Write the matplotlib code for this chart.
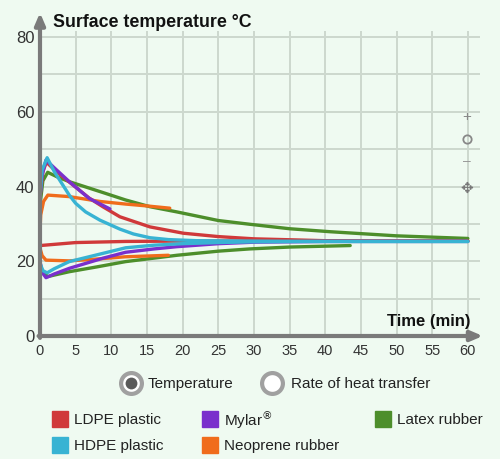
import matplotlib
matplotlib.use("Agg")
import matplotlib.pyplot as plt
from matplotlib.lines import Line2D

plt.rcParams['font.family'] = ['Liberation Sans', 'DejaVu Sans']

# ---- data ----
ldpe_hot_t = [0, 0.4, 0.9, 2, 4.1, 6.9, 8.8, 11.2, 15.4, 20.1, 25, 30, 40, 50, 60]
ldpe_hot_T = [37, 44, 46.5, 44.5, 41.2, 36.9, 34.6, 31.9, 29.2, 27.5, 26.6, 26.0, 25.5, 25.4, 25.4]
ldpe_cold_t = [0, 5, 12, 20, 30, 40, 50, 60]
ldpe_cold_T = [24.2, 25.0, 25.3, 25.4, 25.4, 25.4, 25.4, 25.4]

hdpe_hot_t = [0, 0.3, 1.0, 2, 3.2, 4.1, 5, 6.4, 8.4, 11.2, 13.1, 15.4, 18, 22, 30, 40, 50, 60]
hdpe_hot_T = [37, 44.4, 47.7, 44, 40.4, 37.7, 35.5, 33.2, 31.0, 28.6, 27.3, 26.3, 25.8, 25.5, 25.4, 25.3, 25.3, 25.3]
hdpe_cold_t = [0, 0.4, 1.0, 2, 4.1, 8.8, 12, 16, 20, 25, 30, 40, 50, 60]
hdpe_cold_T = [19.5, 17.5, 16.9, 18, 19.9, 22.1, 23.6, 24.3, 24.7, 25.0, 25.2, 25.3, 25.3, 25.3]

mylar_hot_t = [0, 0.3, 0.84, 2, 4.1, 6.9, 9.8]
mylar_hot_T = [37, 43, 47.1, 45, 41.3, 36.8, 34.0]
mylar_cold_t = [0, 0.3, 0.84, 2, 4.1, 8.8, 12, 16, 19.2, 25, 30, 40, 50, 60]
mylar_cold_T = [20, 17, 15.6, 16.6, 18.1, 20.8, 22.4, 23.3, 23.9, 24.7, 25.1, 25.3, 25.3, 25.3]

latex_hot_t = [0, 0.4, 1.08, 2.5, 4.1, 8.8, 12, 15.4, 19.2, 25, 29.4, 35, 40.7, 50, 60]
latex_hot_T = [35, 41.5, 43.8, 42.5, 41.3, 38.4, 36.4, 34.6, 33.2, 30.9, 29.9, 28.7, 27.9, 26.8, 26.1]
latex_cold_t = [0, 0.4, 1.1, 2, 4.1, 8, 12, 15.4, 19.2, 25, 29.4, 35, 43.5]
latex_cold_T = [19, 17, 15.9, 16.3, 17.2, 18.5, 19.9, 20.7, 21.6, 22.7, 23.3, 23.8, 24.2]

neo_hot_t = [0, 0.1, 0.5, 1.1, 4.1, 8.4, 12, 15, 18.2]
neo_hot_T = [28, 32.4, 36, 37.7, 37.3, 36.0, 35.3, 34.8, 34.2]
neo_cold_t = [0, 0.3, 0.84, 4.1, 8, 12, 15, 18]
neo_cold_T = [23.5, 21.5, 20.3, 20.1, 20.6, 21.2, 21.4, 21.6]

legend_names = ['LDPE plastic', 'HDPE plastic', 'Mylar$^{\u00ae}$', 'Neoprene rubber', 'Latex rubber']
x_ticks = list(range(0, 61, 5))
y_ticks = list(range(0, 81, 10))
y_labels = ['0', '', '20', '', '40', '', '60', '', '80']

# ---- style ----
BG = '#effaf1'
C_LDPE = '#d0393a'
C_HDPE = '#38b3d3'
C_MYLAR = '#7a2fcc'
C_LATEX = '#4d8e2b'
C_NEO = '#f06c1c'
AX = '#7a7a7a'

W, H = 500, 459
fig = plt.figure(figsize=(W / 100, H / 100), dpi=100, facecolor=BG)
ax = fig.add_axes([40 / W, 123 / H, 440 / W, (427.6 - 123) / H], facecolor=BG)
ax.set_xlim(0, 61.7)
ax.set_ylim(0, 81.5)

for s in ax.spines.values():
    s.set_visible(False)
ax.set_xticks(x_ticks)
ax.set_xticklabels([str(v) for v in x_ticks], fontsize=10.5, color='#333333')
ax.set_yticks(y_ticks)
ax.set_yticklabels(y_labels, fontsize=12, color='#333333')
ax.tick_params(length=0, pad=4)
ax.tick_params(axis='x', pad=6)
ax.grid(True, color='#cdd8ce', lw=1.4)
ax.set_axisbelow(True)

lw = 2.4
kw = dict(lw=lw, solid_joinstyle='round', solid_capstyle='round')
ax.plot(latex_hot_t, latex_hot_T, color=C_LATEX, **kw)
ax.plot(latex_cold_t, latex_cold_T, color=C_LATEX, **kw)
ax.plot(ldpe_hot_t, ldpe_hot_T, color=C_LDPE, **kw)
ax.plot(ldpe_cold_t, ldpe_cold_T, color=C_LDPE, **kw)
ax.plot(neo_hot_t, neo_hot_T, color=C_NEO, **kw)
ax.plot(neo_cold_t, neo_cold_T, color=C_NEO, **kw)
ax.plot(mylar_hot_t, mylar_hot_T, color=C_MYLAR, **kw)
ax.plot(mylar_cold_t, mylar_cold_T, color=C_MYLAR, **kw)
ax.plot(hdpe_hot_t, hdpe_hot_T, color=C_HDPE, **kw)
ax.plot(hdpe_cold_t, hdpe_cold_T, color=C_HDPE, **kw)

# axes arrows
arr = dict(arrowstyle='-|>,head_length=0.7,head_width=0.3', color=AX, lw=3, shrinkA=0, shrinkB=0)
ax.annotate('', xy=(0, 86.5), xytext=(0, -0.5), arrowprops=arr, annotation_clip=False)
ax.annotate('', xy=(62.1, 0), xytext=(-0.2, 0), arrowprops=arr, annotation_clip=False)

ax.text(1.8, 84.0, 'Surface temperature \u00b0C', fontsize=12.8, fontweight='bold',
        color='#111111', va='center', ha='left', clip_on=False)
ax.text(60.4, 3.8, 'Time (min)', fontsize=12, fontweight='bold',
        color='#111111', va='center', ha='right', clip_on=False)

# zoom controls
def fx(px):
    return px / W

def fy(py):
    return 1 - py / H

fig.text(fx(467), fy(117), '+', fontsize=11, color='#888888', ha='center', va='center')
fig.add_artist(Line2D([fx(467)], [fy(139)], marker='o', markersize=6, mfc='none', mec='#888888',
                      mew=1.3, transform=fig.transFigure))
fig.text(fx(467), fy(161), '\u2013', fontsize=10, color='#999999', ha='center', va='center')
fig.text(fx(467), fy(188), '\u2725', fontsize=11, color='#777777', ha='center', va='center',
         family='DejaVu Sans')

# radio buttons
fig.add_artist(Line2D([fx(131)], [fy(383)], marker='o', markersize=15, mfc='white', mec='#a0a0a0',
                      mew=3, transform=fig.transFigure))
fig.add_artist(Line2D([fx(131)], [fy(383)], marker='o', markersize=8.5, mfc='#5a5a5a', mec='#5a5a5a',
                      mew=0, transform=fig.transFigure))
fig.text(fx(148), fy(384), 'Temperature', fontsize=11, color='#222222', ha='left', va='center')
fig.add_artist(Line2D([fx(272)], [fy(383)], marker='o', markersize=15, mfc='white', mec='#a0a0a0',
                      mew=3, transform=fig.transFigure))
fig.text(fx(291), fy(384), 'Rate of heat transfer', fontsize=11, color='#222222', ha='left', va='center')

# legend
leg = [(60, 419, C_LDPE, legend_names[0]), (60, 445, C_HDPE, legend_names[1]),
       (210, 419, C_MYLAR, legend_names[2]), (210, 445, C_NEO, legend_names[3]),
       (383, 419, C_LATEX, legend_names[4])]
for px, py, c, name in leg:
    fig.add_artist(Line2D([fx(px)], [fy(py)], marker='s', markersize=11.5, mfc=c, mec=c,
                          transform=fig.transFigure))
    fig.text(fx(px + 14), fy(py + 1), name, fontsize=11, color='#222222', ha='left', va='center')

fig.savefig('out.png', dpi=100, facecolor=BG)
